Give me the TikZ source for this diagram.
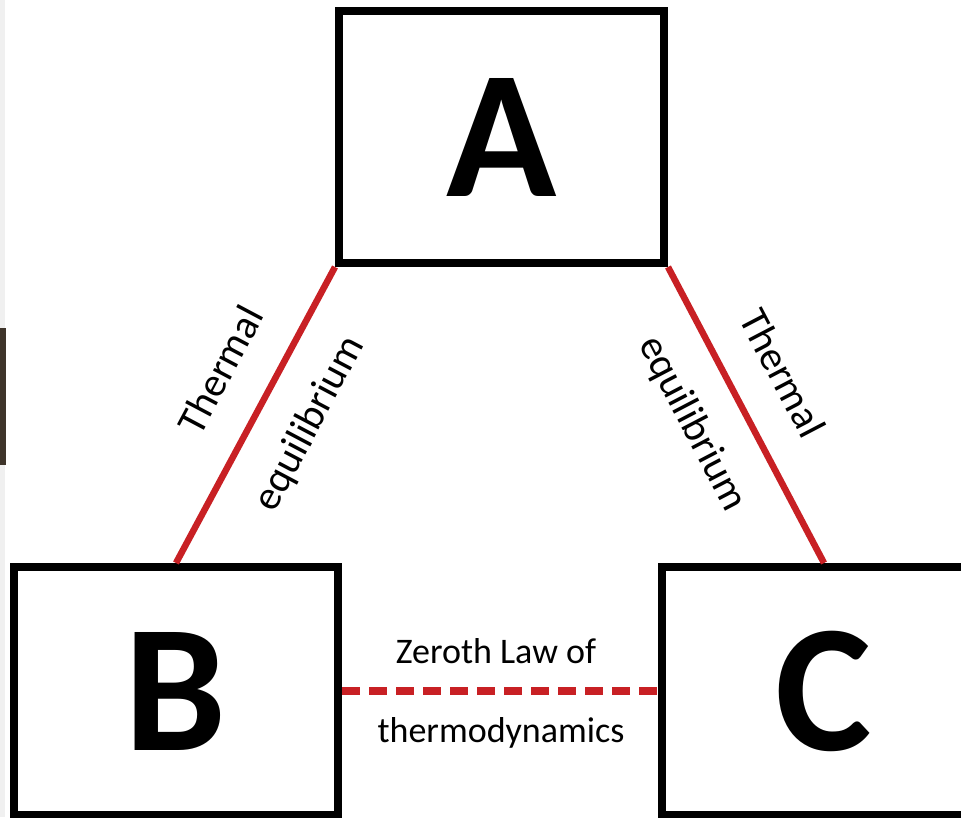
\documentclass[tikz,border=0pt]{standalone}
\usepackage{fontspec}
\setmainfont{Carlito}
\definecolor{linkred}{RGB}{200,32,36}
\definecolor{edgebrown}{RGB}{62,52,42}
\begin{document}
\begin{tikzpicture}[x=1pt,y=-1pt,
  box/.style={draw=black, line width=8pt, fill=white, minimum width=324pt, minimum height=250pt, inner sep=0pt,
    font=\fontsize{182}{182}\selectfont\bfseries},
  eqline/.style={draw=linkred, line width=6.5pt},
  zeroline/.style={draw=linkred, line width=7.5pt, dash pattern=on 18pt off 9pt},
  slabel/.style={font=\fontsize{41}{41}\selectfont, inner sep=0pt},
  hlabel/.style={font=\fontsize{36}{36}\selectfont, inner sep=0pt, anchor=base}]
\useasboundingbox[fill=white] (0,0) rectangle (961,817);
\fill[gray!12] (0,0) rectangle (5,817);
\fill[edgebrown] (0,328) rectangle (6,465);
\coordinate (Apos) at (501.5,137);
\coordinate (Bpos) at (176,691);
\coordinate (Cpos) at (824,691);
\node[box, minimum width=325pt, minimum height=252pt] (A) at (Apos) {A};
\node[box, minimum height=248pt] (B) at (Bpos) {B};
\node[box, minimum height=248pt] (C) at (Cpos) {C};
\draw[eqline] (A.south west) -- (B.north);
\draw[eqline] (A.south east) -- (C.north);
\draw[zeroline] (B.east) -- (C.west);
\node[hlabel] (z1) at (496,663) {Zeroth Law of};
\node[hlabel] (z2) at (501,742) {thermodynamics};
\node[slabel, rotate=62.1] (t1) at (220,370) {Thermal};
\node[slabel, rotate=62.1] (e1) at (310,424) {equilibrium};
\node[slabel, rotate=-62.4] (t2) at (783,373) {Thermal};
\node[slabel, rotate=-62.4] (e2) at (692,424) {equilibrium};
\end{tikzpicture}
\end{document}
